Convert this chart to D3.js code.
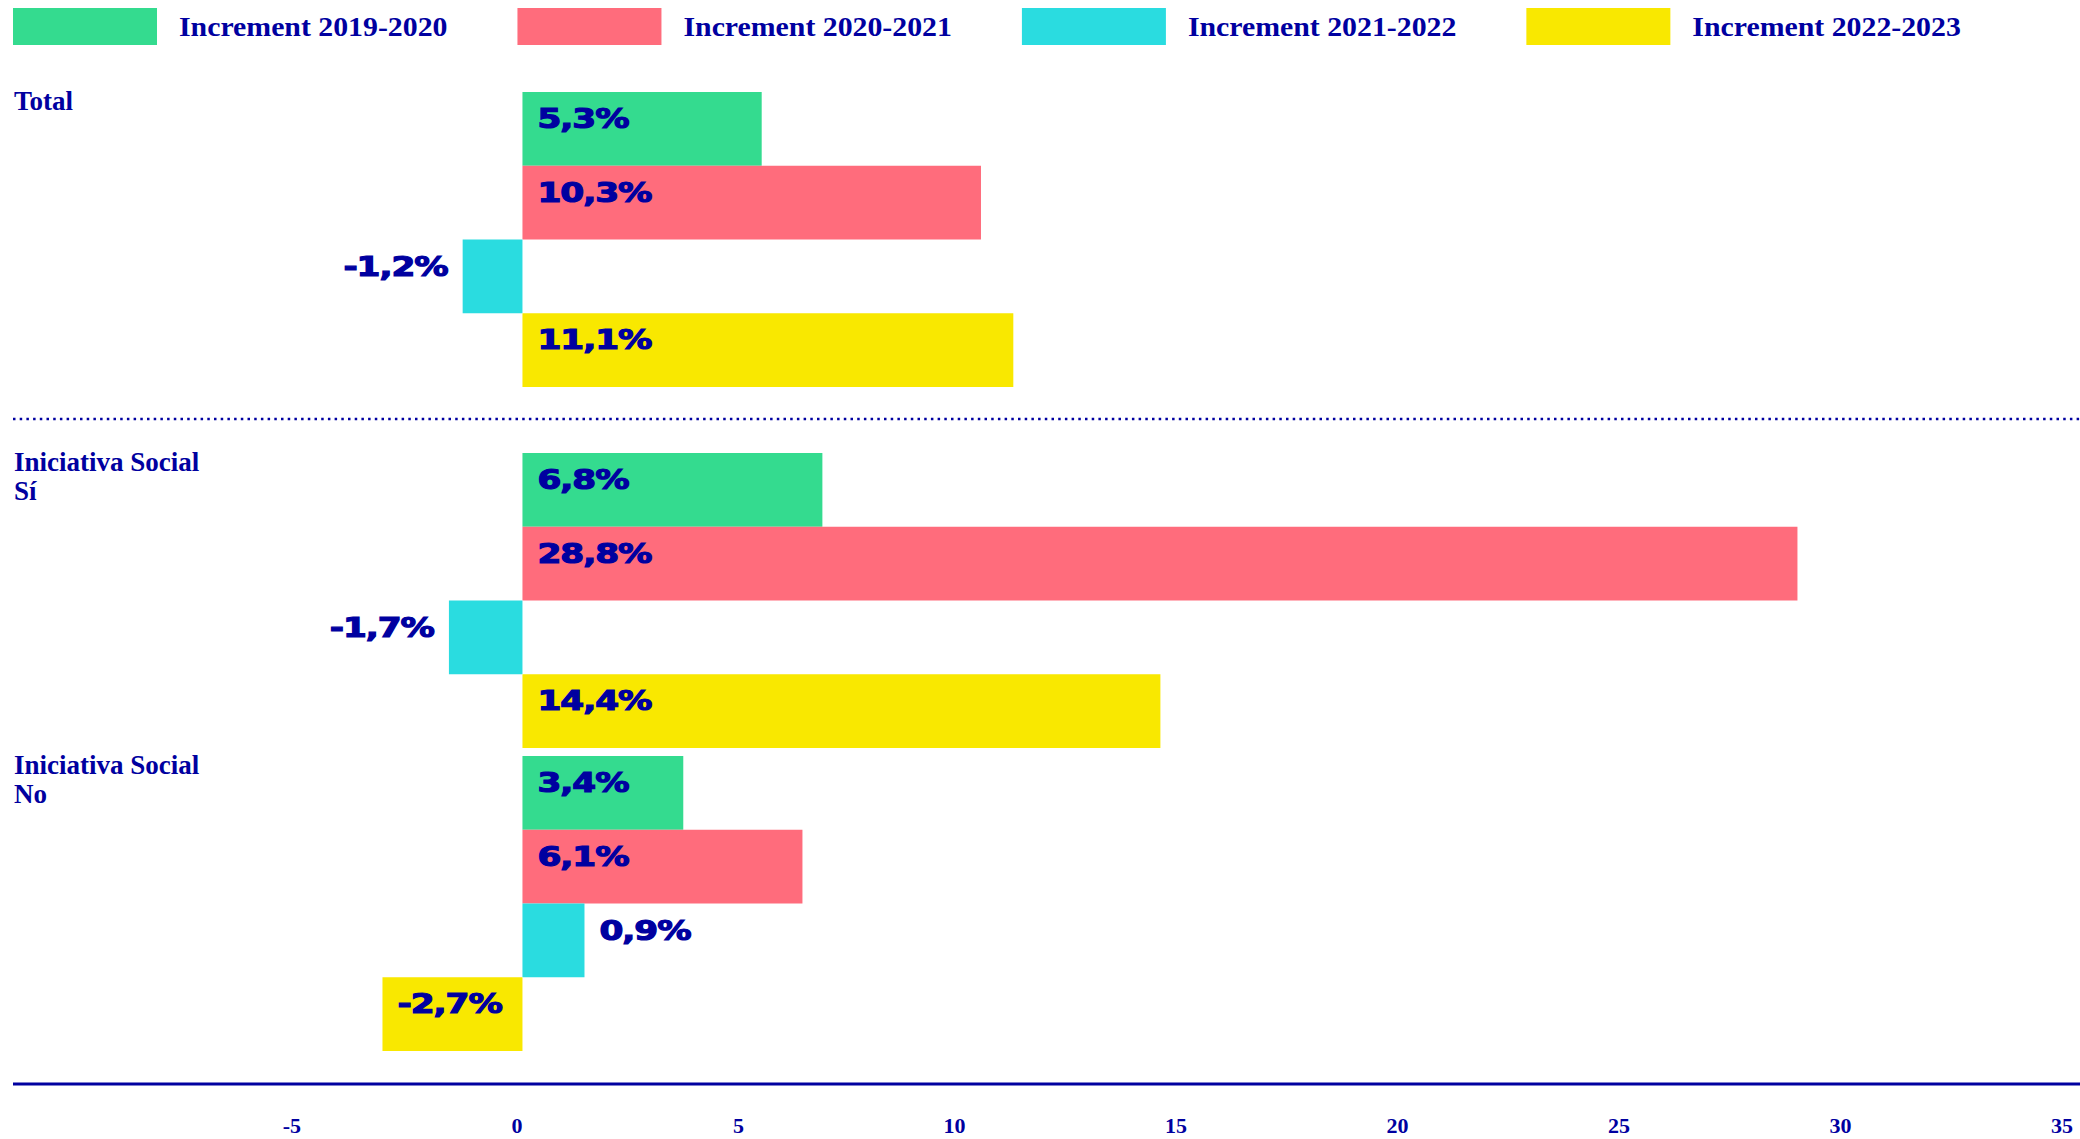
<!DOCTYPE html>
<html lang="es">
  <head>
    <meta charset="UTF-8" />
    <title>Increments</title>
    <style>
      body { margin: 0; background: #fff; }
      svg { display: block; }
    </style>
  </head>
  <body>
    <svg id="chart"></svg>

    <script src="https://d3js.org/d3.v7.min.js"></script>
    <script>
      // data
      const series = ["Increment 2019-2020", "Increment 2020-2021", "Increment 2021-2022", "Increment 2022-2023"];
      const colors = ["#34db8f", "#ff6c7c", "#2adce0", "#f9e800"];
      const categories = ["Total", "Iniciativa Social\nSí", "Iniciativa Social\nNo"];
      // bar lengths, one value per category
      const inc1920 = [5.4, 6.77, 3.63];
      const inc2021 = [10.35, 28.78, 6.32];
      const inc2122 = [-1.35, -1.66, 1.4];
      const inc2223 = [11.08, 14.4, -3.16];
      // printed labels
      const lab1920 = ["5,3%", "6,8%", "3,4%"];
      const lab2021 = ["10,3%", "28,8%", "6,1%"];
      const lab2122 = ["-1,2%", "-1,7%", "0,9%"];
      const lab2223 = ["11,1%", "14,4%", "-2,7%"];
      const xTicks = [-5, 0, 5, 10, 15, 20, 25, 30, 35];

      const values = [inc1920, inc2021, inc2122, inc2223];
      const labels = [lab1920, lab2021, lab2122, lab2223];

      const width = 2080;
      const height = 1139;
      const navy = "#0000a0";
      const serif = "'Liberation Serif', 'DejaVu Serif', serif";
      const sans = "'DejaVu Sans', sans-serif";
      const stretch = 1.27; // wide look for value labels
      const legendStretch = 1.065;

      const svg = d3.select("#chart").attr("width", width).attr("height", height);
      svg.append("rect").attr("width", width).attr("height", height).attr("fill", "#fff");

      const x = d3.scaleLinear().domain([-11.5, 35]).range([13, 2073]);

      // top panel holds "Total", lower panel the two others
      const yTop = d3.scaleBand().domain([categories[0]]).range([92, 387]).padding(0);
      const yBottom = d3.scaleBand()
        .domain(categories.slice(1))
        .range([453, 1051])
        .paddingInner(8 / 303)
        .paddingOuter(0);
      const yCat = (c) => (yTop.domain().includes(c) ? yTop(c) : yBottom(c));
      const ySeries = d3.scaleBand().domain(series).range([0, yTop.bandwidth()]).padding(0);

      // legend
      const legend = svg.append("g").attr("class", "legend");
      let lx = 13;
      series.forEach((s, i) => {
        legend.append("rect")
          .attr("x", lx).attr("y", 8)
          .attr("width", 144).attr("height", 37)
          .attr("fill", colors[i]);
        const t = legend.append("text")
          .attr("transform", `translate(${lx + 166},36) scale(${legendStretch},1)`)
          .attr("font-family", serif).attr("font-weight", "bold")
          .attr("font-size", "28px").attr("fill", navy)
          .text(s);
        lx += 166 + t.node().getComputedTextLength() * legendStretch + 70;
      });

      // separator between Total and the rest
      svg.append("line")
        .attr("x1", 13).attr("x2", width)
        .attr("y1", 419).attr("y2", 419)
        .attr("stroke", navy).attr("stroke-width", 2.5)
        .attr("stroke-dasharray", "2.5,4.2");

      // category labels
      categories.forEach((c) => {
        const t = svg.append("text")
          .attr("x", 14).attr("y", yCat(c) + 18)
          .attr("font-family", serif).attr("font-weight", "bold")
          .attr("font-size", "27px").attr("fill", navy);
        c.split("\n").forEach((line, k) => {
          t.append("tspan").attr("x", 14).attr("dy", k === 0 ? 0 : 29).text(line);
        });
      });

      // bars + value labels
      categories.forEach((c, ci) => {
        series.forEach((s, si) => {
          const v = values[si][ci];
          const y0 = yCat(c) + ySeries(s);
          const bx = Math.min(x(0), x(v));
          const bw = Math.abs(x(v) - x(0));
          svg.append("rect")
            .attr("x", bx).attr("y", y0)
            .attr("width", bw).attr("height", ySeries.bandwidth())
            .attr("fill", colors[si]);

          const t = svg.append("text")
            .attr("font-family", sans).attr("font-weight", "bold")
            .attr("font-size", "27px").attr("fill", navy)
            .attr("stroke", navy).attr("stroke-width", 1.2)
            .attr("letter-spacing", "-0.8px")
            .text(labels[si][ci]);
          const tw = t.node().getComputedTextLength() * stretch;
          let tx, anchor = "start";
          if (tw + 15 <= bw) {
            tx = bx + 15; // inside
          } else if (v >= 0) {
            tx = bx + bw + 15;
          } else {
            tx = bx - 15;
            anchor = "end";
          }
          t.attr("text-anchor", anchor)
            .attr("transform", `translate(${tx},${y0 + 36}) scale(${stretch},1)`);
        });
      });

      // x axis
      svg.append("line")
        .attr("x1", 13).attr("x2", width)
        .attr("y1", 1084).attr("y2", 1084)
        .attr("stroke", navy).attr("stroke-width", 3);

      svg.selectAll(".tick")
        .data(xTicks)
        .join("text")
        .attr("class", "tick")
        .attr("x", (d) => x(d))
        .attr("y", 1133)
        .attr("text-anchor", "end")
        .attr("font-family", serif).attr("font-weight", "bold")
        .attr("font-size", "22px").attr("fill", navy)
        .text((d) => d);
    </script>
  </body>
</html>
